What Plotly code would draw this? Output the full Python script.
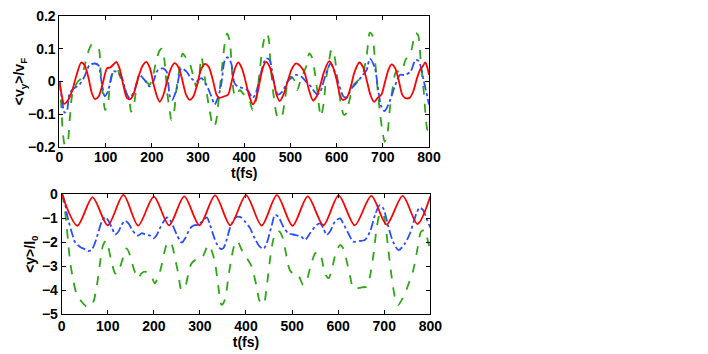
import plotly.graph_objects as go

# top panel: <v_y>/v_F
t_vr = [0,4,10,18,27,37,47,55,63,70,77,85,93,103,110,117,123,130,138,146,153,160,170,180,188,196,204,211,217,224,232,240,249,257,265,274,282,290,298,306,315,323,332,340,345,355,365,372,380,387,395,403,411,419,426,433,440,447,455,463,471,477,485,494,502,512,522,531,540,549,557,565,573,584,592,600,607,613,622,630,638,649,657,665,673,681,689,697,705,712,719,727,735,742,748,758,766,774,782,786,792,797,800]
vr = [0,-0.035,-0.068,-0.058,-0.03,0.02,0.058,0.048,0.01,-0.035,-0.054,-0.045,-0.01,0.04,0.043,0.052,0.06,0.04,-0.01,-0.05,-0.054,-0.04,0.01,0.048,0.06,0.04,-0.01,-0.045,-0.062,-0.045,-0.005,0.035,0.056,0.045,0.01,-0.04,-0.056,-0.045,-0.01,0.035,0.054,0.045,0.005,-0.04,-0.05,-0.046,-0.04,-0.005,0.04,0.058,0.04,0.0,-0.045,-0.07,-0.05,-0.005,0.04,0.06,0.045,0.005,-0.045,-0.06,-0.04,0.0,0.035,0.055,0.046,0.025,-0.025,-0.058,-0.045,-0.01,0.03,0.062,0.045,0.005,-0.04,-0.056,-0.05,-0.02,0.025,0.058,0.045,0.005,-0.04,-0.062,-0.05,-0.04,0.0,0.035,0.052,0.04,0.0,-0.04,-0.05,-0.05,-0.03,0.01,0.04,0.045,0.058,0.04,0.02]

t_vb = [0,5,11,16,22,32,43,54,65,76,84,91,98,105,116,123,134,145,152,163,173,184,195,202,213,224,232,239,244,253,264,275,285,296,307,318,329,336,343,350,358,364,372,379,387,397,407,418,425,436,447,455,462,473,483,494,501,512,523,534,544,558,565,576,587,593,604,615,622,633,643,654,665,672,683,690,697,704,715,726,737,747,760,771,778,789,800]
vb = [0,-0.05,-0.095,-0.09,-0.036,-0.02,-0.01,0.015,0.05,0.055,0.05,0.0,-0.045,-0.03,0.03,0.03,0.015,-0.036,-0.05,-0.025,0.02,0.005,-0.015,-0.005,0.035,0.04,0.03,-0.046,-0.056,-0.026,0.04,0.03,0.01,0.0,0.01,-0.01,-0.046,-0.07,-0.05,-0.01,0.065,0.074,0.055,-0.005,-0.016,-0.02,-0.026,-0.05,-0.036,0.025,0.07,0.066,0.015,-0.04,-0.03,0.0,0.01,0.02,0.015,0.0,-0.015,-0.04,-0.03,0.02,0.055,0.04,-0.005,-0.046,-0.048,-0.02,-0.005,0.015,0.035,0.07,0.04,-0.026,-0.077,-0.09,-0.06,-0.015,0.02,0.02,0.03,0.066,0.062,0.0,-0.07]

t_vg = [0,4,7,12,17,22,27,32,40,47,54,61,70,79,85,89,94,99,105,110,118,125,130,137,145,152,155,161,166,173,181,188,195,202,210,217,222,228,233,239,242,248,253,260,267,275,282,289,296,302,307,311,318,325,333,338,343,350,358,363,369,373,378,383,390,397,404,411,418,425,433,440,447,452,457,464,472,480,487,494,501,508,515,523,534,541,546,552,558,563,566,572,577,584,589,595,602,609,616,621,628,637,644,651,658,665,672,677,683,689,694,700,704,710,715,722,729,741,749,760,771,776,782,789,797,800]
vg = [0,-0.075,-0.15,-0.195,-0.19,-0.12,-0.045,-0.02,0.0,0.01,0.045,0.085,0.113,0.106,0.1,0.035,-0.036,-0.087,-0.066,-0.005,0.035,0.04,0.02,-0.005,-0.036,-0.066,-0.092,-0.072,-0.026,0.02,0.01,0.0,-0.01,0.015,0.065,0.095,0.1,0.055,-0.031,-0.092,-0.117,-0.092,-0.026,0.04,0.085,0.07,0.055,0.02,-0.015,0.01,0.075,0.05,-0.026,-0.087,-0.138,-0.128,-0.077,0.015,0.117,0.147,0.12,0.045,-0.036,-0.046,-0.026,-0.036,-0.046,-0.056,-0.087,-0.062,0.025,0.106,0.147,0.137,0.05,-0.046,-0.107,-0.112,-0.066,-0.005,0.015,0.005,-0.026,0.01,0.045,0.086,0.076,0.035,-0.026,-0.087,-0.107,-0.066,0.005,0.066,0.098,0.08,0.005,-0.066,-0.102,-0.097,-0.056,-0.01,0.0,0.01,0.03,0.076,0.149,0.142,0.066,-0.026,-0.097,-0.158,-0.184,-0.158,-0.087,-0.015,0.03,0.03,0.066,0.086,0.148,0.143,0.066,-0.035,-0.148,-0.15]

# bottom panel: <y>/l_0
t_yr = [0,34,67,100,134,166,200,233,266,299,333,366,400,434,467,501,534,568,601,636,672,705,740,772,800]
yr = [0,-1.32,-0.14,-1.3,-0.04,-1.31,-0.11,-1.3,-0.1,-1.3,-0.06,-1.3,-0.05,-1.31,-0.05,-1.32,-0.1,-1.3,-0.06,-1.3,-0.08,-1.27,-0.08,-1.25,-0.1]

t_yb = [0,2,7,11,16,22,29,40,51,58,65,72,80,87,95,101,109,116,123,130,138,145,152,159,166,174,181,192,200,206,213,221,229,235,242,250,257,261,268,275,282,289,297,304,315,322,329,336,345,351,358,365,376,387,398,409,419,430,438,445,456,463,470,481,492,506,520,528,539,553,561,568,575,582,593,604,611,622,633,647,658,669,680,690,698,708,719,731,745,756,770,777,784,793,800]
yb = [0,-0.04,-0.35,-0.8,-1.2,-1.6,-2.0,-2.2,-2.3,-2.37,-2.32,-2.05,-1.56,-1.15,-0.96,-1.1,-1.4,-1.68,-1.57,-1.29,-1.12,-1.22,-1.46,-1.64,-1.73,-1.63,-1.68,-1.73,-1.84,-1.71,-1.43,-1.15,-0.97,-1.07,-1.35,-1.7,-1.95,-2.02,-1.84,-1.56,-1.36,-1.29,-1.29,-1.15,-0.97,-1.29,-1.7,-2.05,-2.28,-2.25,-1.91,-1.43,-1.0,-0.95,-1.15,-1.43,-1.84,-2.19,-2.28,-2.05,-1.29,-0.87,-0.94,-1.36,-1.63,-1.7,-1.77,-1.91,-1.63,-1.29,-1.22,-1.43,-1.7,-1.57,-1.15,-1.01,-1.22,-1.63,-1.98,-1.95,-1.91,-1.57,-0.87,-0.46,-0.6,-1.29,-1.98,-2.33,-2.05,-1.63,-0.8,-0.57,-0.66,-1.08,-1.4]

t_yg = [0,2,7,11,14,19,25,32,43,54,61,69,76,83,90,96,101,108,116,120,127,134,141,148,155,163,166,173,181,188,195,202,210,217,224,231,239,246,253,260,268,275,282,293,304,311,318,325,333,340,347,354,362,369,376,381,391,402,412,423,430,438,445,452,459,466,472,480,488,495,503,510,517,524,532,539,550,557,564,571,579,586,593,604,611,618,626,633,640,651,662,669,677,684,691,697,702,709,716,723,730,738,745,752,763,773,780,788,795,800]
yg = [0,-0.1,-0.66,-1.36,-2.0,-2.9,-3.57,-4.13,-4.47,-4.68,-4.68,-4.47,-3.85,-2.9,-2.12,-1.94,-2.19,-2.81,-3.3,-3.32,-3.02,-2.6,-2.26,-2.53,-3.02,-3.43,-3.5,-3.3,-3.23,-3.3,-3.43,-3.71,-3.43,-2.95,-2.33,-1.98,-2.12,-2.67,-3.3,-3.99,-3.85,-3.3,-2.88,-2.71,-2.67,-2.4,-2.12,-2.33,-2.88,-3.85,-4.61,-4.4,-3.43,-2.6,-2.05,-1.95,-2.33,-2.67,-3.0,-3.85,-4.47,-4.58,-3.85,-2.74,-1.91,-1.55,-1.55,-1.84,-2.6,-3.16,-3.32,-3.3,-3.5,-3.78,-3.57,-3.09,-2.47,-2.4,-2.67,-3.3,-3.5,-3.16,-2.6,-2.12,-2.26,-2.74,-3.43,-3.92,-3.92,-3.88,-3.85,-3.43,-2.47,-1.36,-0.8,-0.8,-1.22,-2.33,-3.43,-4.27,-4.61,-4.4,-4.13,-3.78,-3.16,-2.19,-1.56,-1.5,-1.98,-2.33]

red = "#ff0000"
blue = "#2a4dff"
green = "#2ea616"

fig = go.Figure()
def add(t, v, col, dash, ax):
    fig.add_trace(go.Scatter(x=t, y=v, mode="lines", line=dict(color=col, width=1.8, dash=dash, shape="spline", smoothing=0.8),
                             xaxis="x" + ax, yaxis="y" + ax, showlegend=False, hoverinfo="skip"))

add(t_vg, vg, green, "dash", "")
add(t_vb, vb, blue, "dashdot", "")
add(t_vr, vr, red, "solid", "")
add(t_yg, yg, green, "dash", "2")
add(t_yb, yb, blue, "dashdot", "2")
add(t_yr, yr, red, "solid", "2")

fnt = dict(family="Liberation Sans, Arial", size=14, color="black")
ax = dict(showline=True, linecolor="black", linewidth=1, mirror="ticks", ticks="inside", ticklen=4,
          tickcolor="black", showgrid=False, zeroline=False, tickfont=fnt, automargin=False,
          ticklabeloverflow="allow")

# page body adds 8px offset, domains account for it
fig.update_layout(
    width=708, height=354, margin=dict(l=0, r=0, t=0, b=0),
    paper_bgcolor="white", plot_bgcolor="white",
    font=fnt,
    xaxis=dict(ax, domain=[0.0727, 0.5946], range=[0, 800], dtick=100, anchor="y", ticklabelstandoff=-3,
               title=dict(text="<b>t(fs)</b>", font=fnt, standoff=0)),
    yaxis=dict(ax, domain=[0.6073, 0.9774], range=[-0.2, 0.2], dtick=0.1, anchor="x",
               title=dict(text="<b>&lt;v<sub>y</sub>&gt;/v<sub>F</sub></b>", font=fnt, standoff=0)),
    xaxis2=dict(ax, domain=[0.0758, 0.5965], range=[0, 800], dtick=100, anchor="y2", ticklabelstandoff=-1,
                title=dict(text="<b>t(fs)</b>", font=fnt, standoff=0)),
    yaxis2=dict(ax, domain=[0.1347, 0.4746], range=[-5, 0], dtick=1, anchor="x2",
                title=dict(text="<b>&lt;y&gt;/l<sub>0</sub></b>", font=fnt, standoff=2)),
)
fig.update_xaxes(tickprefix="<b>", ticksuffix="</b>")
fig.update_yaxes(tickprefix="<b>", ticksuffix="</b>")

fig.write_html("out.html")
